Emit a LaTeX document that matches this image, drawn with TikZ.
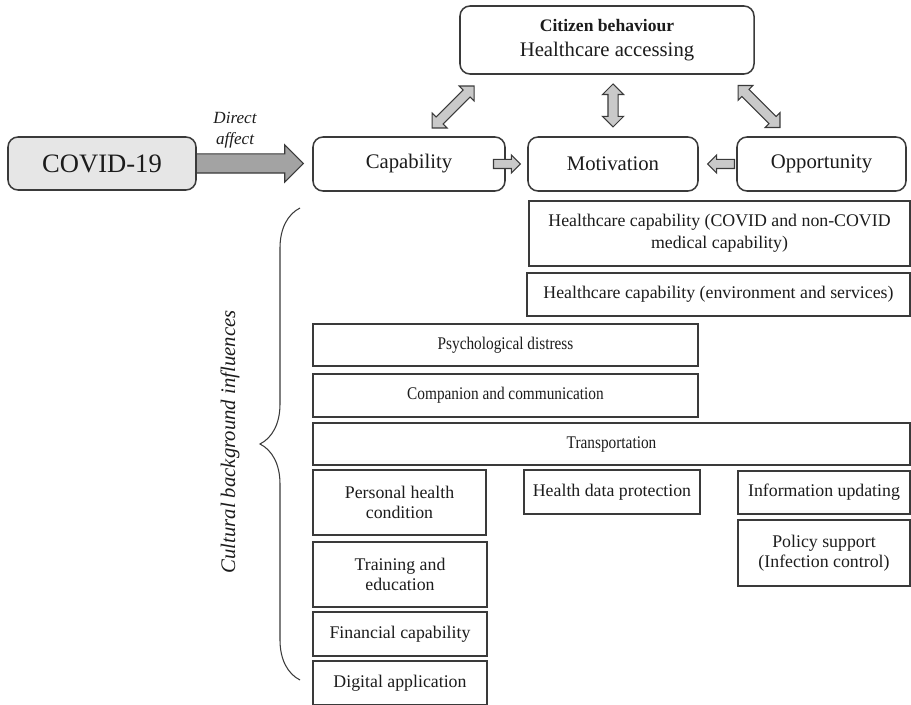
\documentclass[tikz,border=0pt]{standalone}
\usepackage{fontspec}
\setmainfont{Liberation Serif}
\newfontfamily\narrowserif[FakeStretch=0.86]{Liberation Serif}
\usepackage{xcolor}
\usepackage{tikz}
\usetikzlibrary{shapes.arrows, decorations.pathreplacing, calc, positioning}
\pgfdeclarelayer{bg}
\pgfsetlayers{bg,main}

\definecolor{linegray}{HTML}{3A3A3A}
\definecolor{textgray}{HTML}{1C1C1C}
\definecolor{arrowfill}{HTML}{C9C9C9}
\definecolor{bigfill}{HTML}{A3A3A3}
\definecolor{covidfill}{HTML}{E6E6E6}

\newcommand{\fsbox}{\fontsize{15.2}{17.5}\selectfont}
\newcommand{\fsnarrow}{\narrowserif\fontsize{15.2}{17.5}\selectfont}
\newcommand{\fstop}{\fontsize{17.7}{21}\selectfont}
\newcommand{\fscit}{\fontsize{15}{18}\selectfont}
\newcommand{\fscovid}{\fontsize{22.7}{27}\selectfont}
\newcommand{\fsdirect}{\fontsize{14.6}{18}\selectfont}

\tikzset{
	roundbox/.style={draw=linegray, line width=1.3pt, rounded corners=0.3cm, fill=white, inner sep=0pt, text=textgray, align=center},
	plainbox/.style={draw=linegray, line width=1pt, fill=white, inner sep=0pt, text=textgray, align=center, font=\fsbox},
	blockarrow/.style={single arrow, draw=linegray, fill=arrowfill, line width=0.9pt, inner xsep=0pt, inner ysep=0.12cm, single arrow head extend=0.135cm, minimum height=0.81cm},
	dblarrow/.style={double arrow, draw=linegray, fill=arrowfill, line width=0.9pt, inner xsep=0pt, inner ysep=0.135cm, double arrow head extend=0.165cm},
	bigarrow/.style={single arrow, draw=linegray, fill=bigfill, line width=1pt, inner xsep=0pt, inner ysep=0.27cm, single arrow head extend=0.27cm, minimum height=3.48cm}
}

\begin{document}
\begin{tikzpicture}[x=0.03cm, y=-0.03cm]
	\useasboundingbox (0,0) rectangle (911,705);
	% top row
	\node[roundbox, font=\fstop, minimum width=8.82cm, minimum height=2.04cm] (citizen) at (607,40) {{\fscit\bfseries Citizen behaviour}\\Healthcare accessing};
	\node[roundbox, minimum width=5.64cm, minimum height=1.59cm, fill=covidfill, font=\fscovid] (covid) at (102,163.5) {COVID-19};
	\node[roundbox, font=\fstop, minimum width=5.76cm, minimum height=1.62cm] (cap) at (409,164) {Capability};
	\node[roundbox, font=\fstop, minimum width=5.1cm, minimum height=1.62cm] (mot) at (613,164) {Motivation};
	\node[roundbox, font=\fstop, minimum width=5.07cm, minimum height=1.62cm] (opp) at (821.5,164) {Opportunity};
	\node[text=textgray, font=\fsdirect\itshape, align=center] (directlbl) at (235,130) {Direct\\affect};
	% arrows
	\begin{pgfonlayer}{bg}
		\node[bigarrow, anchor=tail] (covidcap) at ([xshift=-0.3cm]covid.east) {};
	\end{pgfonlayer}
	\node[blockarrow, anchor=tip] (capmot) at ([xshift=-0.18cm]mot.west) {};
	\node[blockarrow, shape border rotate=180, anchor=tip] (oppmot) at ([xshift=0.24cm]mot.east) {};
	\node[dblarrow, rotate=90, minimum height=1.29cm] (citmot) at ($(citizen.south -| mot.north)!0.5!(mot.north)$) {};
	\node[dblarrow, rotate=45, minimum height=1.78cm] (citcap) at ($(cap.north)!0.5!(citizen.south west)+(19,1.5)$) {};
	\node[dblarrow, rotate=-45, minimum height=1.78cm] (citopp) at ($(opp.north west)!0.5!(citizen.south east)+(13.5,1)$) {};
	% factor boxes
	\node[plainbox, minimum width=11.43cm, minimum height=1.95cm, font=\fontsize{15.2}{18.5}\selectfont] (hcapmed) at (719.5,233.5) {Healthcare capability (COVID and non-COVID\\medical capability)};
	\node[plainbox, minimum width=11.49cm, minimum height=1.29cm] (hcapenv) at (718.5,294.5) {Healthcare capability (environment and services)};
	\node[plainbox, font=\fsnarrow, minimum width=11.55cm, minimum height=1.26cm] (psych) at (505.5,345) {Psychological distress};
	\node[plainbox, font=\fsnarrow, minimum width=11.55cm, minimum height=1.29cm] (comp) at (505.5,395.5) {Companion and communication};
	\node[plainbox, font=\fsnarrow, minimum width=17.91cm, minimum height=1.26cm] (trans) at (611.5,444) {Transportation};
	\node[plainbox, minimum width=5.19cm, minimum height=1.95cm] (pers) at (399.5,502.5) {Personal health\\condition};
	\node[plainbox, minimum width=5.22cm, minimum height=1.95cm] (train) at (400,574.5) {Training and\\education};
	\node[plainbox, minimum width=5.22cm, minimum height=1.32cm] (fin) at (400,634) {Financial capability};
	\node[plainbox, minimum width=5.22cm, minimum height=1.32cm] (dig) at (400,683) {Digital application};
	\node[plainbox, minimum width=5.28cm, minimum height=1.32cm] (hdata) at (612,492) {Health data protection};
	\node[plainbox, minimum width=5.16cm, minimum height=1.29cm] (info) at (824,492.5) {Information updating};
	\node[plainbox, minimum width=5.16cm, minimum height=1.98cm] (policy) at (824,553) {Policy support\\(Infection control)};
	% cultural brace
	\draw[linegray, line width=0.9pt, decorate, decoration={brace, amplitude=1.2cm}] (300,680) -- (300,208);
	\node[rotate=90, text=textgray, font=\fstop\itshape] (culture) at (230,442) {Cultural background influences};
\end{tikzpicture}
\end{document}
